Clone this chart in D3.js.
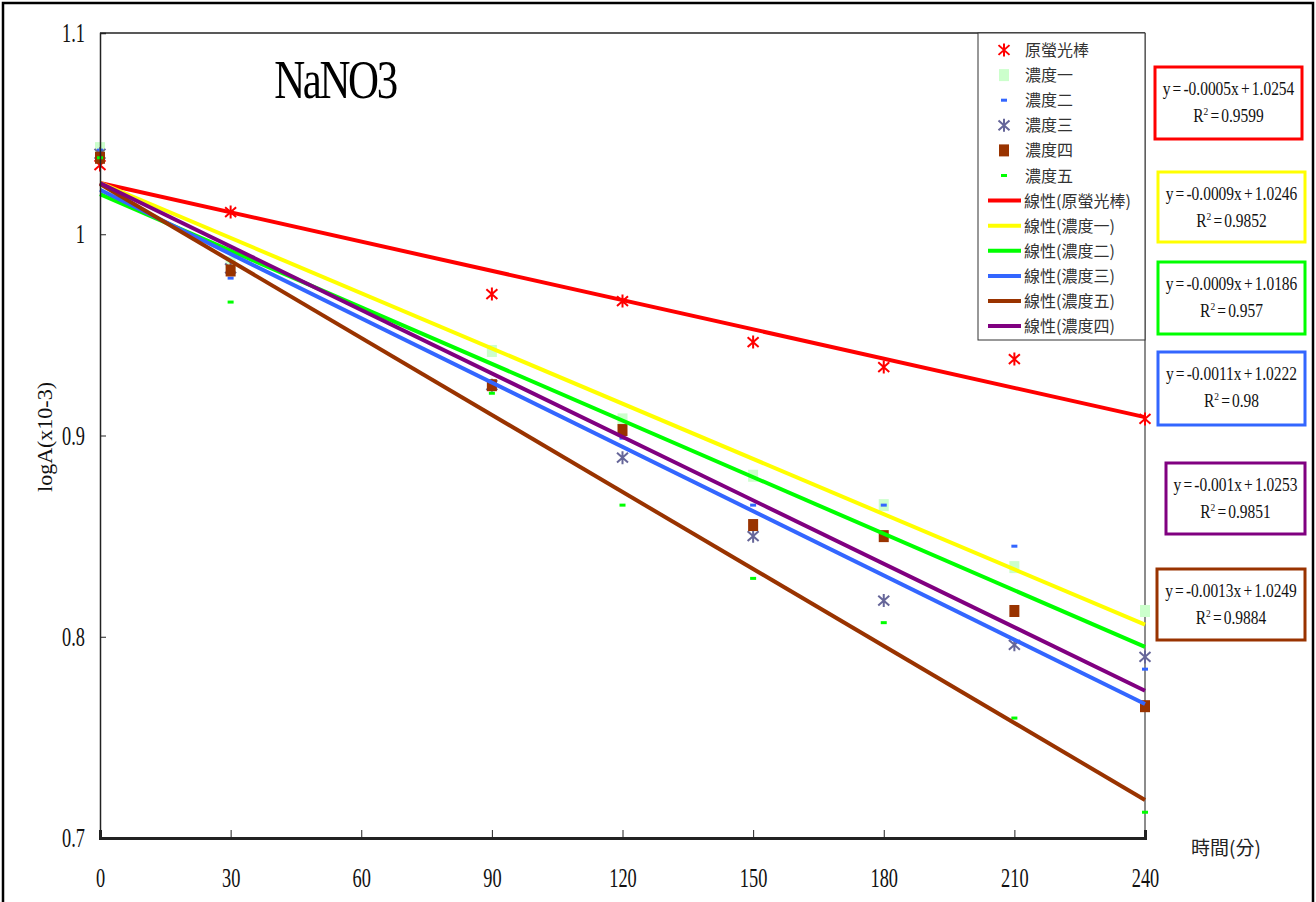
<!DOCTYPE html>
<html>
<head>
<meta charset="utf-8">
<script src="https://cdn.jsdelivr.net/npm/d3@7"></script>
<style>
  html, body { margin: 0; padding: 0; background: #fff; }
  svg { display: block; }
</style>
</head>
<body>
<svg id="chart" width="1316" height="902"></svg>
<script>
// Sampling times (minutes)
const times = [0, 30, 90, 120, 150, 180, 210, 240];

// Measured logA values for each sample
const seriesNames = ["原螢光棒", "濃度一", "濃度二", "濃度三", "濃度四", "濃度五"];
const yuan  = [1.0344, 1.0110, 0.9703, 0.9668, 0.9464, 0.9340, 0.9380, 0.9082];
const nong1 = [1.0428, 0.9860, 0.9420, 0.9080, 0.8800, 0.8654, 0.8346, 0.8128];
const nong2 = [1.0418, 0.9782, 0.9250, 0.8987, 0.8654, 0.8654, 0.8450, 0.7839];
const nong3 = [1.0400, 0.9830, 0.9250, 0.8890, 0.8500, 0.8180, 0.7960, 0.7900];
const nong4 = [1.0380, 0.9820, 0.9250, 0.9027, 0.8555, 0.8500, 0.8128, 0.7655];
const nong5 = [1.0380, 0.9663, 0.9210, 0.8654, 0.8290, 0.8070, 0.7596, 0.7128];

// Linear trend lines (legend order) and the series each one fits
const trendNames  = ["線性(原螢光棒)", "線性(濃度一)", "線性(濃度二)", "線性(濃度三)", "線性(濃度五)", "線性(濃度四)"];
const trendSource = [0, 1, 2, 3, 5, 4];

// Equation labels, top to bottom
const eqText = ["y = -0.0005x + 1.0254", "y = -0.0009x + 1.0246", "y = -0.0009x + 1.0186",
                "y = -0.0011x + 1.0222", "y = -0.001x + 1.0253", "y = -0.0013x + 1.0249"];
const r2Text = ["0.9599", "0.9852", "0.957", "0.98", "0.9851", "0.9884"];
const eqTrend = [0, 1, 2, 3, 5, 4];   // trend line (colour) per label box

// Axis ticks
const xTicks = [0, 30, 60, 90, 120, 150, 180, 210, 240];
const yTicks = [0.7, 0.8, 0.9, 1.0, 1.1];
const yTickLabels = ["0.7", "0.8", "0.9", "1", "1.1"];

const allSeries = [yuan, nong1, nong2, nong3, nong4, nong5];

// Styling
const markerStyle = [
  { type: "star", color: "#ff0000" },
  { type: "square", color: "#ccffcc" },
  { type: "dash", color: "#3366ff" },
  { type: "star", color: "#666699" },
  { type: "square", color: "#993300" },
  { type: "dash", color: "#00ff00" }
];
const trendColors = ["#ff0000", "#ffff00", "#00ff00", "#3366ff", "#993300", "#800080"];

const SERIF = "'Liberation Serif', 'Times New Roman', serif";
const CJK = "'Noto Sans CJK TC', 'Noto Sans CJK SC', sans-serif";

const svg = d3.select("#chart");

const x = d3.scaleLinear().domain([0, 240]).range([100, 1145]);
const y = d3.scaleLinear().domain([0.7, 1.1]).range([838, 33]);

// Outer frame
svg.append("rect").attr("x", 3).attr("y", 3).attr("width", 1310).attr("height", 912)
  .attr("fill", "none").attr("stroke", "#000").attr("stroke-width", 2.5);

// Plot frame: top and right edges
svg.append("line").attr("x1", x(0)).attr("x2", x(240)).attr("y1", y(1.1)).attr("y2", y(1.1))
  .attr("stroke", "#222").attr("stroke-width", 1.5);
svg.append("line").attr("x1", x(240)).attr("x2", x(240)).attr("y1", y(1.1)).attr("y2", y(0.7))
  .attr("stroke", "#8c8c8c").attr("stroke-width", 2);

// Least-squares fit
function linfit(xs, ys) {
  const mx = d3.mean(xs), my = d3.mean(ys);
  let sxy = 0, sxx = 0;
  xs.forEach((v, i) => { sxy += (v - mx) * (ys[i] - my); sxx += (v - mx) * (v - mx); });
  const slope = sxy / sxx;
  return { slope, intercept: my - slope * mx };
}

// Marker drawing
function drawMarker(g, type, color, cx, cy) {
  if (type === "star") {
    const w = 5.5, h = 6.5;
    g.append("path")
      .attr("d", `M${cx},${cy - h}V${cy + h}M${cx - w},${cy - h * 0.75}L${cx + w},${cy + h * 0.75}M${cx - w},${cy + h * 0.75}L${cx + w},${cy - h * 0.75}`)
      .attr("stroke", color).attr("stroke-width", 2).attr("fill", "none");
  } else if (type === "square") {
    g.append("rect").attr("x", cx - 5).attr("y", cy - 6).attr("width", 10).attr("height", 12)
      .attr("fill", color);
  } else {
    g.append("rect").attr("x", cx - 3).attr("y", cy - 1.5).attr("width", 6).attr("height", 3)
      .attr("fill", color);
  }
}

// Data markers
const markers = svg.append("g");
allSeries.forEach((vals, si) => {
  vals.forEach((v, i) => drawMarker(markers, markerStyle[si].type, markerStyle[si].color, x(times[i]), y(v)));
});

// Trend lines
const trends = svg.append("g");
const fits = trendSource.map(si => linfit(times, allSeries[si]));
fits.forEach((f, ti) => {
  trends.append("line")
    .attr("x1", x(0)).attr("y1", y(f.intercept))
    .attr("x2", x(240)).attr("y2", y(f.intercept + f.slope * 240))
    .attr("stroke", trendColors[ti]).attr("stroke-width", 4);
});

// X axis
const xAxis = svg.append("g").attr("transform", `translate(0,${y(0.7)})`)
  .call(d3.axisBottom(x).tickValues(xTicks).tickFormat(d3.format("d")).tickSize(-8).tickPadding(30));
xAxis.select(".domain").attr("stroke", "#222").attr("stroke-width", 3);
xAxis.selectAll(".tick line").attr("stroke", "#222").attr("stroke-width", 1);
xAxis.selectAll(".tick text")
  .attr("font-family", SERIF).attr("font-size", 27).attr("fill", "#111")
  .attr("transform", "scale(0.68,1)");

// Y axis
const yAxis = svg.append("g").attr("transform", `translate(${x(0)},0)`)
  .call(d3.axisLeft(y).tickValues(yTicks).tickFormat((d, i) => yTickLabels[i]).tickSize(-6).tickPadding(15));
yAxis.select(".domain").attr("stroke", "#222").attr("stroke-width", 1.5);
yAxis.selectAll(".tick line").attr("stroke", "#222").attr("stroke-width", 1);
yAxis.selectAll(".tick text")
  .attr("font-family", SERIF).attr("font-size", 27).attr("fill", "#111")
  .attr("x", -15 / 0.68).attr("transform", "scale(0.68,1)");

// Axis titles
svg.append("text").attr("transform", "translate(52,437) rotate(-90)")
  .attr("text-anchor", "middle").attr("font-family", SERIF).attr("font-size", 22).attr("fill", "#111")
  .text("logA(x10-3)");
svg.append("text").attr("x", 1226).attr("y", 855).attr("text-anchor", "middle")
  .attr("font-family", CJK).attr("font-size", 19).attr("fill", "#222")
  .text("時間(分)");

// Chart title
svg.append("text").attr("transform", "translate(335,98) scale(0.78,1)")
  .attr("text-anchor", "middle").attr("font-family", SERIF).attr("font-size", 55).attr("fill", "#000")
  .attr("letter-spacing", -3)
  .text("NaNO3");

// Legend
const legend = svg.append("g");
legend.append("rect").attr("x", 978).attr("y", 33).attr("width", 167).attr("height", 307)
  .attr("fill", "#fff").attr("stroke", "#333").attr("stroke-width", 1);
const rowY = i => 50 + i * 25.1;
seriesNames.forEach((name, i) => {
  drawMarker(legend, markerStyle[i].type, markerStyle[i].color, 1004, rowY(i));
  legend.append("text").attr("x", 1025).attr("y", rowY(i) + 6)
    .attr("font-family", CJK).attr("font-size", 16).attr("fill", "#333").text(name);
});
trendNames.forEach((name, ti) => {
  const ry = rowY(seriesNames.length + ti);
  legend.append("line").attr("x1", 988).attr("x2", 1021).attr("y1", ry).attr("y2", ry)
    .attr("stroke", trendColors[ti]).attr("stroke-width", 4);
  legend.append("text").attr("x", 1024).attr("y", ry + 6)
    .attr("font-family", CJK).attr("font-size", 16).attr("fill", "#333").text(name);
});

// Equation boxes
const boxes = [
  { x: 1155, y: 67,  w: 147, h: 72 },
  { x: 1158, y: 172, w: 147, h: 70 },
  { x: 1158, y: 262, w: 147, h: 72 },
  { x: 1158, y: 352, w: 147, h: 73 },
  { x: 1166, y: 463, w: 139, h: 71 },
  { x: 1157, y: 569, w: 148, h: 71 }
];
const eqG = svg.append("g");
boxes.forEach((b, k) => {
  eqG.append("rect").attr("x", b.x).attr("y", b.y).attr("width", b.w).attr("height", b.h)
    .attr("fill", "#fff").attr("stroke", trendColors[eqTrend[k]]).attr("stroke-width", 3);
  const cx = b.x + b.w / 2;
  eqG.append("text").attr("transform", `translate(${cx},${b.y + 28}) scale(0.86,1)`)
    .attr("text-anchor", "middle").attr("font-family", SERIF).attr("font-size", 18).attr("fill", "#111")
    .attr("word-spacing", -2)
    .text(eqText[k]);
  const t2 = eqG.append("text").attr("transform", `translate(${cx},${b.y + 55}) scale(0.86,1)`)
    .attr("text-anchor", "middle").attr("font-family", SERIF).attr("font-size", 18).attr("fill", "#111")
    .attr("word-spacing", -2);
  t2.append("tspan").text("R");
  t2.append("tspan").attr("dy", -7).attr("font-size", 11).text("2");
  t2.append("tspan").attr("dy", 7).text(" = " + r2Text[k]);
});
</script>
</body>
</html>
